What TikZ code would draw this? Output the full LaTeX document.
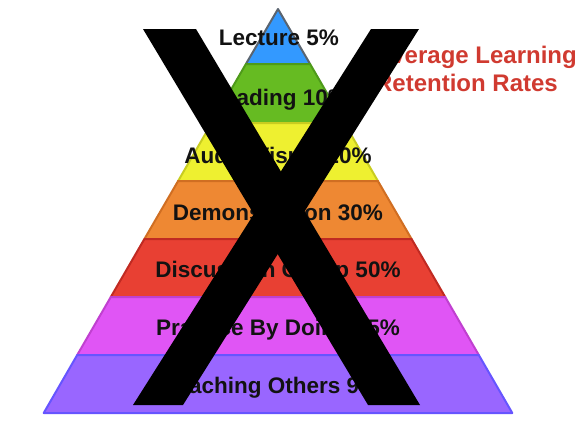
\documentclass[tikz,border=0pt]{standalone}
\usepackage{fontspec}
\setmainfont{Liberation Sans}
\definecolor{lecturefill}{HTML}{3399FF}
\definecolor{lectureedge}{HTML}{5A6470}
\definecolor{readingfill}{HTML}{66BB22}
\definecolor{readingedge}{HTML}{4E9A1A}
\definecolor{audiofill}{HTML}{EEF030}
\definecolor{audioedge}{HTML}{C8CC20}
\definecolor{demofill}{HTML}{EE8833}
\definecolor{demoedge}{HTML}{D06E22}
\definecolor{discfill}{HTML}{E84033}
\definecolor{discedge}{HTML}{C02A22}
\definecolor{practfill}{HTML}{E055F5}
\definecolor{practedge}{HTML}{C040D0}
\definecolor{teachfill}{HTML}{9966FF}
\definecolor{teachedge}{HTML}{6655FF}
\definecolor{titlered}{HTML}{D03A30}
\tikzset{
  layer/.style={line width=2pt, line join=round},
  layertext/.style={anchor=base, inner sep=0pt, text=black!93, font=\bfseries\fontsize{22.5}{26}\selectfont},
  titletext/.style={anchor=base east, inner sep=0pt, text=titlered, font=\bfseries\fontsize{24}{28}\selectfont},
}
\begin{document}
\begin{tikzpicture}[x=1pt, y=-1pt]
	\useasboundingbox (0,0) rectangle (583,424);
	% pyramid layers, apex (278,9), half width 0.58 per unit of depth
	\filldraw[layer, fill=lecturefill, draw=lectureedge] (278,9) -- (310.1,64) -- (245.9,64) -- cycle;
	\filldraw[layer, fill=readingfill, draw=readingedge] (245.9,64) -- (310.1,64) -- (344.3,123) -- (211.7,123) -- cycle;
	\filldraw[layer, fill=audiofill, draw=audioedge] (211.7,123) -- (344.3,123) -- (377.9,181) -- (178.1,181) -- cycle;
	\filldraw[layer, fill=demofill, draw=demoedge] (178.1,181) -- (377.9,181) -- (411.6,239) -- (144.4,239) -- cycle;
	\filldraw[layer, fill=discfill, draw=discedge] (144.4,239) -- (411.6,239) -- (445.2,297) -- (110.8,297) -- cycle;
	\filldraw[layer, fill=practfill, draw=practedge] (110.8,297) -- (445.2,297) -- (478.8,355) -- (77.2,355) -- cycle;
	\filldraw[layer, fill=teachfill, draw=teachedge] (77.2,355) -- (478.8,355) -- (512.3,413) -- (43.7,413) -- cycle;
	% labels
	\node[layertext] (lecture) at (279,45) {Lecture 5\%};
	\node[layertext] (reading) at (278,105) {Reading 10\%};
	\node[layertext] (audio) at (278,163) {Audio Visual 20\%};
	\node[layertext] (demo) at (278,220) {Demonstration 30\%};
	\node[layertext] (disc) at (278,277) {Discussion Group 50\%};
	\node[layertext] (pract) at (278,335) {Practice By Doing 75\%};
	\node[layertext] (teach) at (278,393) {Teaching Others 90\%};
	\node[titletext] (title1) at (577,63) {Average Learning};
	\node[titletext] (title2) at (558,91) {Retention Rates};
	% the big cross
	\fill[black] (143,29) -- (196,29) -- (420,405) -- (368,405) -- cycle;
	\fill[black] (371,29) -- (419,29) -- (183,405) -- (133,405) -- cycle;
\end{tikzpicture}
\end{document}
